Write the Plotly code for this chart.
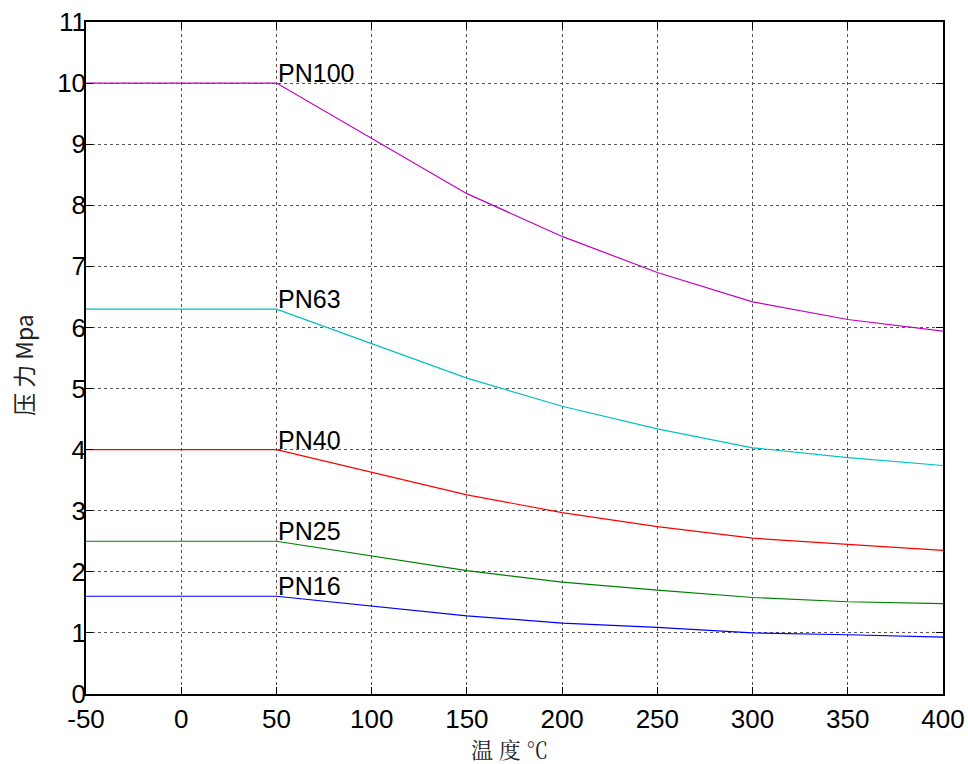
import plotly.graph_objects as go

temps = [-50, 50, 150, 200, 250, 300, 350, 400]
pn100 = [10, 10, 8.19, 7.49, 6.90, 6.42, 6.13, 5.94]
pn63 = [6.3, 6.3, 5.17, 4.71, 4.34, 4.03, 3.87, 3.74]
pn40 = [4.0, 4.0, 3.26, 2.97, 2.74, 2.55, 2.45, 2.35]
pn25 = [2.5, 2.5, 2.02, 1.83, 1.70, 1.58, 1.51, 1.48]
pn16 = [1.6, 1.6, 1.28, 1.16, 1.09, 1.00, 0.97, 0.93]

x_ticks = [-50, 0, 50, 100, 150, 200, 250, 300, 350, 400]
x_ticklabels = ["-50", "0", "50", "100", "150", "200", "250", "300", "350", "400"]
y_ticks = list(range(0, 12))
x_title = "温 度 ℃"
y_title = "压 力 Mpa"

series = [
    ("PN100", pn100, "#c000c0"),
    ("PN63", pn63, "#00c0c0"),
    ("PN40", pn40, "#ff0000"),
    ("PN25", pn25, "#008000"),
    ("PN16", pn16, "#0000ff"),
]
label_x = 50
FONT = "Liberation Sans Narrow, Liberation Sans, Arial"

fig = go.Figure()
annotations = []
for name, vals, color in series:
    fig.add_trace(go.Scatter(x=temps, y=vals, mode="lines", name=name,
                             line=dict(color=color, width=1.2), showlegend=False))
    annotations.append(dict(x=label_x, y=vals[temps.index(label_x)], text=name,
                            xanchor="left", yanchor="bottom", showarrow=False,
                            xshift=0, yshift=-6,
                            font=dict(family=FONT, size=25, color="black")))

annotations.append(dict(xref="paper", yref="paper", x=0.5, y=0, text=x_title,
                        xanchor="center", yanchor="middle", showarrow=False,
                        xshift=-5, yshift=-54,
                        font=dict(family="Noto Serif CJK SC, Noto Sans CJK SC", size=22, color="#222")))
annotations.append(dict(xref="paper", yref="paper", x=0, y=0.5, text=y_title,
                        xanchor="center", yanchor="middle", showarrow=False, textangle=-90,
                        xshift=-63, yshift=-7,
                        font=dict(family="Noto Sans CJK SC", size=23, color="#222")))

axis_common = dict(
    showline=True, linecolor="black", linewidth=1.5, mirror="ticks",
    ticks="inside", ticklen=7, tickcolor="black", tickwidth=1,
    showgrid=True, gridcolor="#555", griddash="dot", gridwidth=1,
    zeroline=False, automargin=False, ticklabeloverflow="allow",
    tickfont=dict(family=FONT, size=26, color="black"),
)

fig.update_layout(
    width=968, height=764,
    paper_bgcolor="white", plot_bgcolor="white",
    margin=dict(l=86, r=25, t=22, b=70),
    annotations=annotations,
    xaxis=dict(range=[-50, 400], tickvals=x_ticks, ticktext=x_ticklabels,
               ticklabelstandoff=1, **axis_common),
    yaxis=dict(range=[0, 11], tickvals=y_ticks, ticklabelstandoff=-7, **axis_common),
)

fig.write_html("out.html", config={"displayModeBar": False},
               post_script="document.body.style.margin='0';document.body.style.overflow='hidden';")
